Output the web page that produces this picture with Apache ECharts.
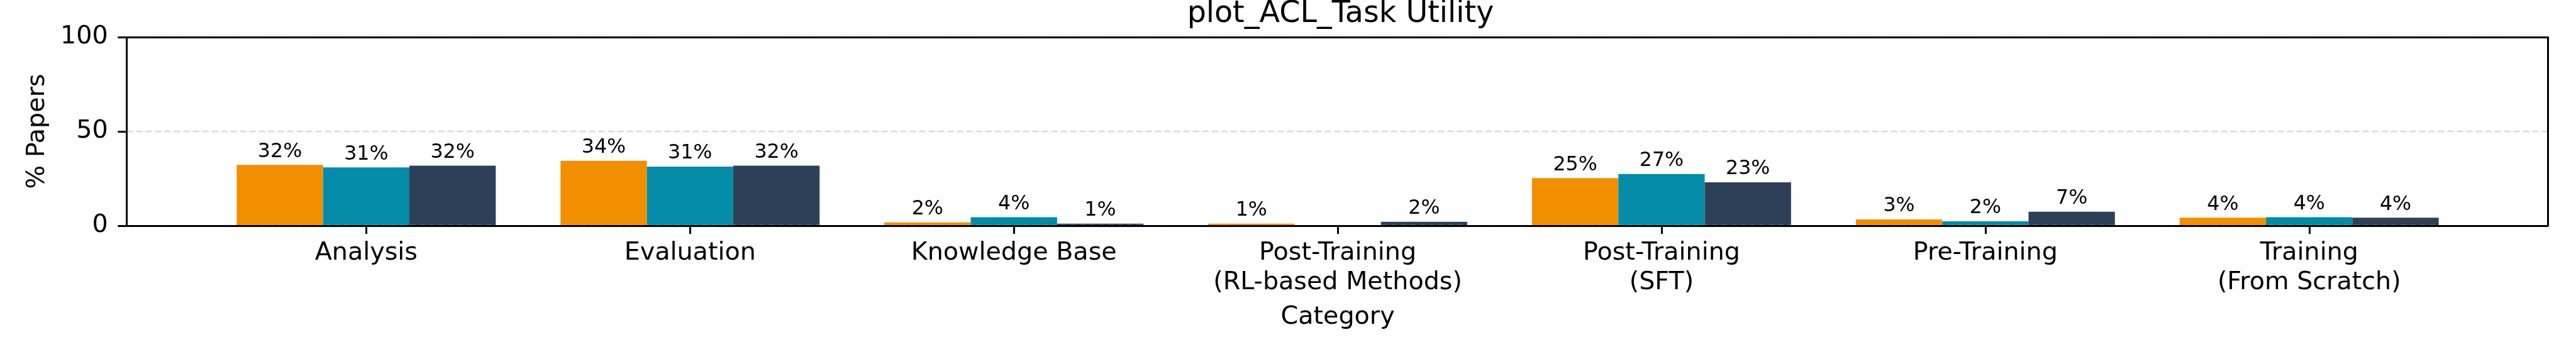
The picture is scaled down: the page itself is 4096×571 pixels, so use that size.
<!DOCTYPE html>
<html>
<head>
<meta charset="utf-8">
<script src="https://cdn.jsdelivr.net/npm/echarts@6/dist/echarts.min.js"></script>
<style>
html,body{margin:0;padding:0;background:#fff;}
#chart{width:4096px;height:571px;}
</style>
</head>
<body>
<div id="chart"></div>
<script>
const categories = ['Analysis', 'Evaluation', 'Knowledge Base', 'Post-Training\n(RL-based Methods)', 'Post-Training\n(SFT)', 'Pre-Training', 'Training\n(From Scratch)'];
const seriesA = [32.2, 34.4, 1.7, 1.0, 25.2, 3.3, 4.2];
const seriesB = [30.9, 31.3, 4.4, 0, 27.4, 2.3, 4.4];
const seriesC = [31.8, 31.8, 1.0, 2.0, 23.0, 7.4, 4.2];
const yTicks = [0, 50, 100];

const S = 0.951;
const FONT = 'DejaVu Sans';
const colors = ['#F18F01', '#048BA8', '#2E4057'];

const frame = {left: 201.6, right: 4096 - 4051.3, top: 59.2, bottom: 571 - 358.8};
const inner = {left: 324.9, right: 4096 - 3929.2, top: frame.top, bottom: frame.bottom};

const chart = echarts.init(document.getElementById('chart'), null, {renderer: 'canvas'});

function barSeries(name, data, color) {
  return {
    name: name, type: 'bar', xAxisIndex: 2, yAxisIndex: 2, data: data,
    barGap: '0%', barCategoryGap: '20%',
    itemStyle: {color: color},
    label: {
      show: true, position: 'top', distance: 5,
      fontFamily: FONT, fontSize: 33.3 * S, lineHeight: 33.3 * S, color: '#000',
      formatter: p => p.value === 0 ? '' : Math.round(p.value) + '%'
    }
  };
}

const lineStyleFrame = {color: '#000', width: 3};

chart.setOption({
  animation: false,
  backgroundColor: '#fff',
  title: {
    text: 'plot_ACL_Task Utility',
    left: (frame.left + 4051.3) / 2, textAlign: 'center', top: -6,
    textStyle: {fontFamily: FONT, fontSize: 50 * S, lineHeight: 50 * S, fontWeight: 'normal', color: '#000'}
  },
  grid: [
    Object.assign({}, frame),
    Object.assign({}, frame),
    Object.assign({}, inner)
  ],
  xAxis: [
    {gridIndex: 0, type: 'value', min: 0, max: 1, position: 'bottom', z: 5,
      axisLine: {show: true, onZero: false, lineStyle: lineStyleFrame}, axisTick: {show: false}, axisLabel: {show: false}, splitLine: {show: false}},
    {gridIndex: 1, type: 'value', min: 0, max: 1, position: 'top', z: 5,
      axisLine: {show: true, onZero: false, lineStyle: lineStyleFrame}, axisTick: {show: false}, axisLabel: {show: false}, splitLine: {show: false}},
    {gridIndex: 2, type: 'category', data: categories, position: 'bottom',
      axisLine: {show: false},
      axisTick: {show: true, alignWithLabel: true, inside: false, length: 14 * S, lineStyle: {color: '#000', width: 3}},
      axisLabel: {fontFamily: FONT, fontSize: 41.7 * S, lineHeight: 49 * S, color: '#000', margin: 21, interval: 0},
      name: 'Category', nameLocation: 'middle', nameGap: 126,
      nameTextStyle: {fontFamily: FONT, fontSize: 41.7 * S, lineHeight: 41.7 * S, color: '#000'}}
  ],
  yAxis: [
    {gridIndex: 0, type: 'value', min: 0, max: 100, interval: 50, position: 'left', z: 5,
      axisLine: {show: true, onZero: false, lineStyle: lineStyleFrame},
      axisTick: {show: true, inside: false, length: 15 * S, lineStyle: {color: '#000', width: 3}},
      axisLabel: {fontFamily: FONT, fontSize: 41.7 * S, color: '#000', margin: 30,
        formatter: v => yTicks.includes(v) ? String(v) : ''},
      splitLine: {show: true, lineStyle: {color: '#d9d9d9', width: 2.4, type: [10, 5]}},
      name: '% Papers', nameLocation: 'middle', nameGap: 122, nameRotate: 90,
      nameTextStyle: {fontFamily: FONT, fontSize: 41.7 * S, lineHeight: 41.7 * S, color: '#000'}},
    {gridIndex: 1, type: 'value', min: 0, max: 100, position: 'right', z: 5,
      axisLine: {show: true, onZero: false, lineStyle: lineStyleFrame}, axisTick: {show: false}, axisLabel: {show: false}, splitLine: {show: false}},
    {gridIndex: 2, type: 'value', min: 0, max: 100, show: false}
  ],
  series: [
    barSeries('Series A', seriesA, colors[0]),
    barSeries('Series B', seriesB, colors[1]),
    barSeries('Series C', seriesC, colors[2])
  ]
});
</script>
</body>
</html>
